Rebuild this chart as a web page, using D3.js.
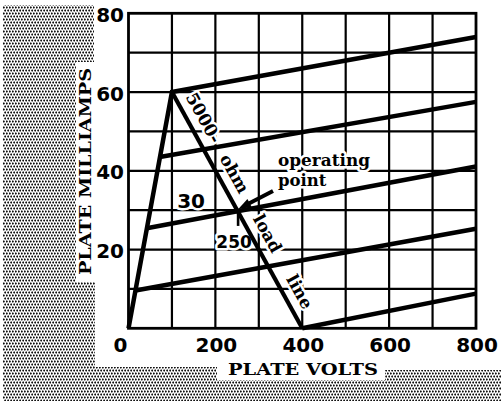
<!DOCTYPE html>
<html>
<head>
<meta charset="utf-8">
<script src="https://cdn.jsdelivr.net/npm/d3@7"></script>
<style>
  html, body { margin: 0; padding: 0; background: #fff; }
  svg { display: block; }
</style>
</head>
<body>
<svg id="chart" width="501" height="401"></svg>
<script>
// Plate characteristics of a triode with a 5000-ohm load line.
const voltTicks = [0, 200, 400, 600, 800];
const maTicks = [20, 40, 60, 80];
const gridVolts = [100, 200, 300, 400, 500, 600, 700];
const gridMa = [10, 20, 30, 40, 50, 60, 70];

// Plate curves, [plate volts, plate milliamps]
const curveZero = [[0, 0], [100, 60], [800, 74]];
const curveB = [[72, 43.5], [800, 57.5]];
const curveC = [[42, 25.4], [800, 41.1]];
const curveD = [[16, 9.6], [800, 25.3]];
const curveE = [[400, 0], [800, 8.8]];
const curves = [curveZero, curveB, curveC, curveD, curveE];

const loadLine = [[100, 60], [400, 0]];
const operatingPoint = [250, 30];
const loadLabels = [
  { text: "5000-", volts: 142 },
  { text: "ohm", volts: 213 },
  { text: "load", volts: 289 },
  { text: "line", volts: 363 }
];

const svg = d3.select("#chart");
const x = d3.scaleLinear().domain([0, 800]).range([128.5, 476]);
const y = d3.scaleLinear().domain([0, 80]).range([328.3, 13.3]);
const line = d3.line().x(d => x(d[0])).y(d => y(d[1]));

// halftone backdrop
const defs = svg.append("defs");
const pat = defs.append("pattern")
  .attr("id", "screen").attr("patternUnits", "userSpaceOnUse")
  .attr("width", 3).attr("height", 6);
pat.append("rect").attr("width", 3).attr("height", 6).attr("fill", "#fff");
pat.append("circle").attr("cx", 0.75).attr("cy", 1.5).attr("r", 1.1).attr("fill", "#111");
pat.append("circle").attr("cx", 2.25).attr("cy", 4.5).attr("r", 1.1).attr("fill", "#111");

svg.append("path")
  .attr("d", "M3,5 L94,5 L94,62 L76,62 L76,282 L95,282 L95,367 L217,367 L217,380 L385,380 L385,370 L501,370 L501,401 L3,401 Z")
  .attr("fill", "url(#screen)");

// grid
const grid = svg.append("g").attr("stroke", "#000").attr("stroke-width", 2.2);
grid.selectAll(".gv").data(gridVolts).join("line")
  .attr("x1", d => x(d)).attr("x2", d => x(d))
  .attr("y1", y(0)).attr("y2", y(80));
grid.selectAll(".gh").data(gridMa).join("line")
  .attr("x1", x(0)).attr("x2", x(800))
  .attr("y1", d => y(d)).attr("y2", d => y(d));
svg.append("rect")
  .attr("x", x(0)).attr("y", y(80))
  .attr("width", x(800) - x(0)).attr("height", y(0) - y(80))
  .attr("fill", "none").attr("stroke", "#000").attr("stroke-width", 2.8);

// tick labels
const tickFont = "'DejaVu Sans', sans-serif";
svg.selectAll(".xt").data(voltTicks).join("text")
  .attr("x", d => d === 0 ? x(0) - 1 : x(d) + 1)
  .attr("y", 352)
  .attr("text-anchor", d => d === 0 ? "end" : "middle")
  .attr("font-family", tickFont).attr("font-size", 20).attr("font-weight", 600)
  .text(d => d);
svg.selectAll(".yt").data(maTicks).join("text")
  .attr("x", 124).attr("y", d => y(d) + 8.5)
  .attr("text-anchor", "end")
  .attr("font-family", tickFont).attr("font-size", 20).attr("font-weight", 600)
  .text(d => d);

// axis titles
const serif = "'DejaVu Serif', serif";
svg.append("text")
  .attr("x", 228).attr("y", 375)
  .attr("font-family", serif).attr("font-weight", "bold").attr("font-size", 17)
  .attr("textLength", 150).attr("lengthAdjust", "spacingAndGlyphs")
  .text("PLATE VOLTS");
svg.append("text")
  .attr("transform", "translate(90.5,275) rotate(-90)")
  .attr("font-family", serif).attr("font-weight", "bold").attr("font-size", 17)
  .attr("textLength", 207).attr("lengthAdjust", "spacingAndGlyphs")
  .text("PLATE MILLIAMPS");

// load-line labels, set alongside the line
const p0 = [x(loadLine[0][0]), y(loadLine[0][1])];
const p1 = [x(loadLine[1][0]), y(loadLine[1][1])];
const ang = Math.atan2(p1[1] - p0[1], p1[0] - p0[0]);
const nx = Math.sin(ang), ny = -Math.cos(ang);
const loadAt = v => {
  const t = (v - loadLine[0][0]) / (loadLine[1][0] - loadLine[0][0]);
  return [p0[0] + t * (p1[0] - p0[0]), p0[1] + t * (p1[1] - p0[1])];
};
const halo = sel => sel.attr("stroke", "#fff").attr("stroke-width", 5)
  .attr("paint-order", "stroke").attr("stroke-linejoin", "round");

svg.selectAll(".ll").data(loadLabels).join("text")
  .attr("transform", d => {
    const p = loadAt(d.volts);
    return `translate(${p[0] + 15.5 * nx},${p[1] + 15.5 * ny}) rotate(${ang * 180 / Math.PI})`;
  })
  .attr("text-anchor", "middle").attr("dominant-baseline", "central")
  .attr("font-family", serif).attr("font-weight", "bold").attr("font-size", 17)
  .call(halo)
  .text(d => d.text);

// operating point annotation
const op = [x(operatingPoint[0]), y(operatingPoint[1])];
svg.append("text").attr("x", 278).attr("y", 166)
  .attr("font-family", serif).attr("font-weight", "bold").attr("font-size", 16.5)
  .attr("textLength", 92).attr("lengthAdjust", "spacingAndGlyphs")
  .call(halo).text("operating");
svg.append("text").attr("x", 278).attr("y", 186)
  .attr("font-family", serif).attr("font-weight", "bold").attr("font-size", 16.5)
  .call(halo).text("point");
svg.append("text").attr("x", op[0] - 46).attr("y", op[1] - 2)
  .attr("text-anchor", "middle")
  .attr("font-family", tickFont).attr("font-size", 20).attr("font-weight", 600)
  .call(halo).text(operatingPoint[1]);
svg.append("text").attr("x", op[0] - 3).attr("y", op[1] + 38)
  .attr("text-anchor", "middle")
  .attr("font-family", tickFont).attr("font-size", 17).attr("font-weight", 600)
  .call(halo).text(operatingPoint[0]);

// plate curves and load line
svg.selectAll(".curve").data(curves).join("path")
  .attr("d", line).attr("fill", "none")
  .attr("stroke", "#000").attr("stroke-width", 4.5).attr("stroke-linejoin", "miter");
svg.append("path").attr("d", line(loadLine))
  .attr("fill", "none").attr("stroke", "#000").attr("stroke-width", 4.2);

// drop mark under the operating point
svg.append("line")
  .attr("x1", op[0] + 1).attr("x2", op[0] + 1)
  .attr("y1", op[1]).attr("y2", y(26))
  .attr("stroke", "#000").attr("stroke-width", 2.6);

// arrow to the operating point
const a0 = [273, 191];
const aAng = Math.atan2(op[1] - a0[1], op[0] - a0[0]);
const tip = [op[0] + 1, op[1] - 1];
svg.append("line")
  .attr("x1", a0[0]).attr("y1", a0[1])
  .attr("x2", tip[0] - 10 * Math.cos(aAng)).attr("y2", tip[1] - 10 * Math.sin(aAng))
  .attr("stroke", "#000").attr("stroke-width", 4);
const hw = 4.5, hl = 13;
const bx = tip[0] - hl * Math.cos(aAng), by = tip[1] - hl * Math.sin(aAng);
svg.append("path")
  .attr("d", `M${tip[0]},${tip[1]} L${bx + hw * Math.sin(aAng)},${by - hw * Math.cos(aAng)} L${bx - hw * Math.sin(aAng)},${by + hw * Math.cos(aAng)} Z`)
  .attr("fill", "#000");
</script>
</body>
</html>
